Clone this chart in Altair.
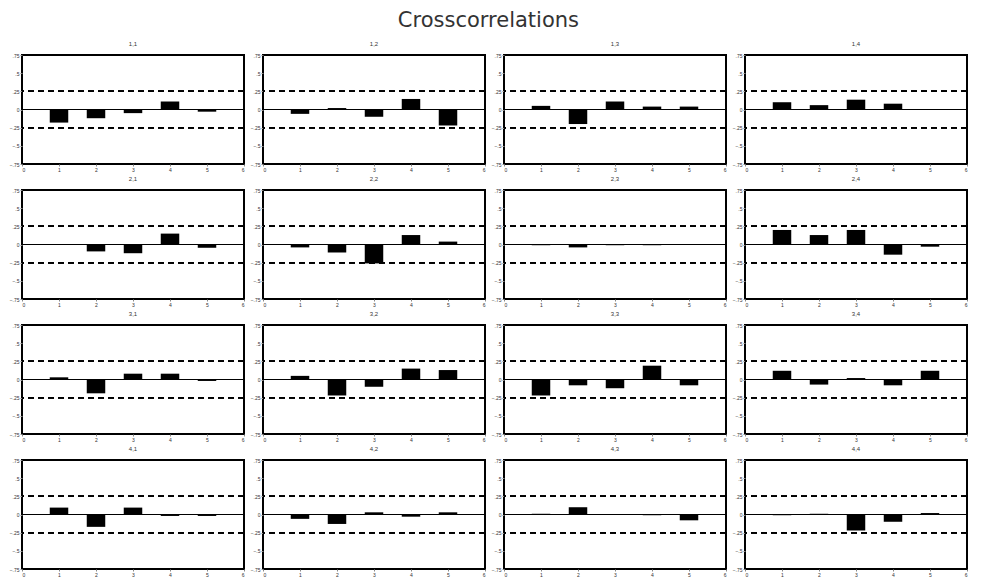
import altair as alt
import pandas as pd

panels = ["1,1", "1,2", "1,3", "1,4",
          "2,1", "2,2", "2,3", "2,4",
          "3,1", "3,2", "3,3", "3,4",
          "4,1", "4,2", "4,3", "4,4"]
lags = [1, 2, 3, 4, 5]
values = [
    [-0.18, -0.12, -0.05, 0.11, -0.03],
    [-0.06, 0.02, -0.10, 0.145, -0.22],
    [0.05, -0.20, 0.11, 0.04, 0.04],
    [0.10, 0.06, 0.135, 0.08, 0.0],
    [0.0, -0.095, -0.12, 0.15, -0.045],
    [-0.04, -0.11, -0.26, 0.13, 0.04],
    [-0.01, -0.04, -0.01, -0.01, 0.0],
    [0.20, 0.13, 0.20, -0.14, -0.03],
    [0.03, -0.19, 0.08, 0.08, -0.02],
    [0.05, -0.22, -0.10, 0.15, 0.13],
    [-0.22, -0.08, -0.12, 0.19, -0.08],
    [0.12, -0.07, 0.02, -0.08, 0.12],
    [0.095, -0.17, 0.095, -0.02, -0.02],
    [-0.06, -0.13, 0.03, -0.03, 0.03],
    [0.01, 0.10, 0.0, -0.01, -0.08],
    [-0.01, 0.01, -0.22, -0.10, 0.02],
]
band = 0.25
x_ticks = [0, 1, 2, 3, 4, 5, 6]
y_ticks = [-0.75, -0.5, -0.25, 0, 0.25, 0.5, 0.75]

rows = []
for p, vals in zip(panels, values):
    for l, v in zip(lags, vals):
        rows.append({"panel": p, "lag": l, "value": v})
df = pd.DataFrame(rows)

xs = alt.Scale(domain=[0, 6], nice=False, zero=False)
ys = alt.Scale(domain=[-0.75, 0.75], nice=False)
xaxis = alt.Axis(values=x_ticks, title=None, grid=False, domain=False, tickSize=2,
                 labelFontSize=5, labelPadding=1, labelColor="#333", labelOverlap=False)
yaxis = alt.Axis(values=y_ticks, title=None, grid=False, domain=False, tickSize=2,
                 labelFontSize=5, labelPadding=1, labelColor="#333", labelOverlap=False,
                 labelFlush=False,
                 labelExpr="replace(format(datum.value, '.2~f'), '0.', '.')")

base = alt.Chart().transform_calculate(
    x1="datum.lag - 0.25", x2="datum.lag + 0.25"
)
bars = base.mark_bar(color="black").encode(
    x=alt.X("x1:Q", scale=xs, axis=xaxis),
    x2="x2:Q",
    y=alt.Y("value:Q", scale=ys, axis=yaxis),
    y2=alt.datum(0),
)
zero = base.mark_rule(color="black", strokeWidth=1).encode(
    y=alt.Y(datum=0, scale=ys, axis=yaxis))
up = base.mark_rule(color="black", strokeWidth=1.5, strokeDash=[6, 4]).encode(
    y=alt.Y(datum=band, scale=ys, axis=yaxis))
dn = base.mark_rule(color="black", strokeWidth=1.5, strokeDash=[6, 4]).encode(
    y=alt.Y(datum=-band, scale=ys, axis=yaxis))

layer = alt.layer(bars, zero, up, dn).properties(width=222, height=109)

chart = layer.facet(
    facet=alt.Facet("panel:N", sort=panels,
                    header=alt.Header(title=None, labelFontSize=6, labelPadding=6,
                                      labelColor="#333")),
    columns=4,
    data=df,
    spacing={"row": 2, "column": 3},
).resolve_axis(x="independent", y="independent").properties(
    title=alt.TitleParams("Crosscorrelations", fontSize=21, font="DejaVu Sans",
                          fontWeight="normal", color="#333", anchor="middle", offset=9),
    padding={"left": 0, "top": 2, "right": 0, "bottom": 0},
).configure_view(stroke="black", strokeWidth=2)

chart.save("out.html", embed_options={"renderer": "svg", "actions": False})
